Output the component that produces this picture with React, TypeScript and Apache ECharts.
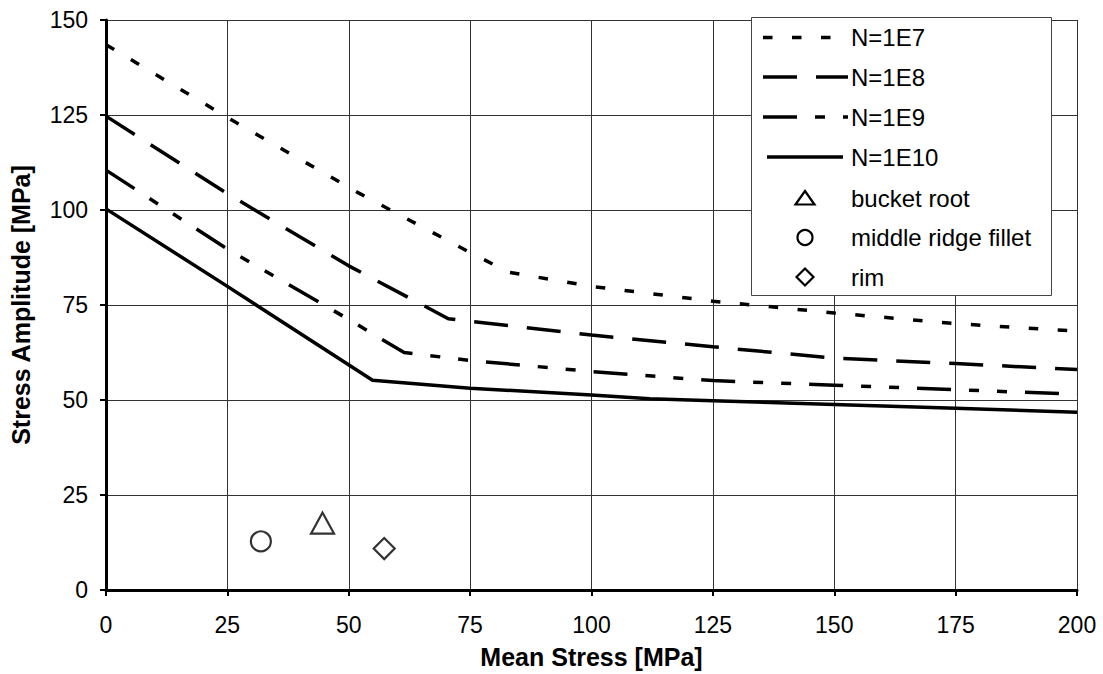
import React, { useEffect, useRef } from "react";
import * as echarts from "echarts";

const xTicks = [0, 25, 50, 75, 100, 125, 150, 175, 200];
const yTicks = [0, 25, 50, 75, 100, 125, 150];

const n1e7: [number, number][] = [
  [0, 143.5], [26, 123.6], [52, 104.5], [75, 88.8], [83, 83.6],
  [100, 79.9], [125, 76.0], [150, 72.9], [175, 70.1], [200, 68.1],
];
const n1e8: [number, number][] = [
  [0, 124.7], [25, 104.3], [50, 85.3], [70.5, 71.4], [75, 70.7],
  [100, 67.1], [125, 64.0], [150, 61.0], [175, 59.6], [200, 58.0],
];
const n1e9: [number, number][] = [
  [0, 110.5], [25, 89.7], [50, 71.2], [61.4, 62.5], [75, 60.4],
  [100, 57.5], [125, 55.1], [150, 53.9], [175, 52.7], [200, 51.5],
];
const n1e10: [number, number][] = [
  [0, 100.3], [25, 79.9], [54.9, 55.2], [75, 53.1], [100, 51.3],
  [112, 50.3], [125, 49.8], [150, 48.8], [175, 47.8], [200, 46.8],
];
const bucketRoot: [number, number][] = [[44.6, 17.6]];
const middleRidgeFillet: [number, number][] = [[31.9, 12.8]];
const rim: [number, number][] = [[57.3, 10.9]];

const lineNames = ["N=1E7", "N=1E8", "N=1E9", "N=1E10"];
const markerNames = ["bucket root", "middle ridge fillet", "rim"];

const FONT = "'Liberation Sans', Arial, sans-serif";

const DASH_1E7 = [9.5, 19.5];
const DASH_1E8 = [34, 19];
const DASH_1E9 = [34, 18, 10, 18, 10, 18];

export default function App() {
  const ref = useRef<HTMLDivElement>(null);
  useEffect(() => {
    if (!ref.current) return;
    const chart = echarts.init(ref.current, undefined, { renderer: "svg" });
    const lineBase = (name: string, data: [number, number][], dash: any) => ({
      name,
      type: "line",
      data,
      symbol: "none",
      showSymbol: false,
      lineStyle: { color: "#000", width: 3.5, type: dash, cap: "butt" },
      itemStyle: { color: "#000" },
      z: 3,
    });
    const scatterBase = (name: string, data: [number, number][], symbol: string, size: any) => ({
      name,
      type: "scatter",
      data,
      symbol,
      symbolSize: size,
      itemStyle: { color: "#fff", borderColor: "#000", borderWidth: 2.2 },
      z: 4,
    });

    // legend drawn with graphic elements
    const rowY = [37.5, 77, 117, 157, 198, 237.5, 277];
    const dashes: any[] = [DASH_1E7, DASH_1E8, DASH_1E9, null];
    const legendEls: any[] = [
      {
        type: "rect",
        shape: { x: 751.5, y: 17.5, width: 300, height: 278 },
        style: { fill: "#fff", stroke: "#444", lineWidth: 1 },
        z: 100,
      },
    ];
    lineNames.forEach((n, i) => {
      legendEls.push({
        type: "line",
        shape: { x1: i === 3 ? 767 : 763, y1: rowY[i], x2: i === 3 ? 843 : 848, y2: rowY[i] },
        style: { stroke: "#000", lineWidth: 3.5, lineDash: dashes[i] || undefined, lineCap: "butt" },
        z: 101,
      });
      legendEls.push({
        type: "text",
        x: 851,
        y: rowY[i],
        style: { text: n, fontFamily: FONT, fontSize: 24, fill: "#000", align: "left", verticalAlign: "middle" },
        z: 101,
      });
    });
    markerNames.forEach((n, j) => {
      legendEls.push({
        type: "text",
        x: 851,
        y: rowY[4 + j],
        style: { text: n, fontFamily: FONT, fontSize: 24, fill: "#000", align: "left", verticalAlign: "middle" },
        z: 101,
      });
    });
    const cx = 805;
    legendEls.push({
      type: "polygon",
      shape: { points: [[cx, rowY[4] - 7], [cx - 9.5, rowY[4] + 6.5], [cx + 9.5, rowY[4] + 6.5]] },
      style: { fill: "#fff", stroke: "#000", lineWidth: 2.2 },
      z: 101,
    });
    legendEls.push({
      type: "circle",
      shape: { cx, cy: rowY[5], r: 7.5 },
      style: { fill: "#fff", stroke: "#000", lineWidth: 2.2 },
      z: 101,
    });
    legendEls.push({
      type: "polygon",
      shape: { points: [[cx, rowY[6] - 8.5], [cx + 8.5, rowY[6]], [cx, rowY[6] + 8.5], [cx - 8.5, rowY[6]]] },
      style: { fill: "#fff", stroke: "#000", lineWidth: 2.2 },
      z: 101,
    });

    chart.setOption({
      animation: false,
      backgroundColor: "#fff",
      textStyle: { fontFamily: FONT },
      grid: { left: 106, top: 20, right: 26, bottom: 80, containLabel: false },
      xAxis: {
        type: "value",
        min: xTicks[0],
        max: xTicks[xTicks.length - 1],
        interval: 25,
        name: "Mean Stress [MPa]",
        nameLocation: "middle",
        nameGap: 54,
        nameTextStyle: { fontFamily: FONT, fontSize: 25, fontWeight: "bold", color: "#000" },
        axisLine: { show: true, onZero: false, lineStyle: { color: "#000", width: 3 } },
        axisTick: { show: true, length: 6, lineStyle: { color: "#000", width: 2 } },
        axisLabel: { fontFamily: FONT, fontSize: 23, color: "#000", margin: 23 },
        splitLine: { show: true, lineStyle: { color: "#333", width: 1 } },
      },
      yAxis: {
        type: "value",
        min: yTicks[0],
        max: yTicks[yTicks.length - 1],
        interval: 25,
        name: "Stress Amplitude [MPa]",
        nameLocation: "middle",
        nameGap: 73,
        nameTextStyle: { fontFamily: FONT, fontSize: 25, fontWeight: "bold", color: "#000" },
        axisLine: { show: true, onZero: false, lineStyle: { color: "#000", width: 3 } },
        axisTick: { show: true, length: 6, lineStyle: { color: "#000", width: 2 } },
        axisLabel: { fontFamily: FONT, fontSize: 23, color: "#000", margin: 18 },
        splitLine: { show: true, lineStyle: { color: "#333", width: 1 } },
      },
      graphic: legendEls,
      series: [
        lineBase(lineNames[0], n1e7, DASH_1E7),
        lineBase(lineNames[1], n1e8, DASH_1E8),
        lineBase(lineNames[2], n1e9, DASH_1E9),
        lineBase(lineNames[3], n1e10, "solid"),
        scatterBase(markerNames[0], bucketRoot, "triangle", [23, 21]),
        scatterBase(markerNames[1], middleRidgeFillet, "circle", 20),
        scatterBase(markerNames[2], rim, "diamond", [21, 21]),
      ],
    });
    return () => chart.dispose();
  }, []);
  return <div ref={ref} style={{ width: 1103, height: 674, position: "absolute", left: 0, top: 0 }} />;
}
